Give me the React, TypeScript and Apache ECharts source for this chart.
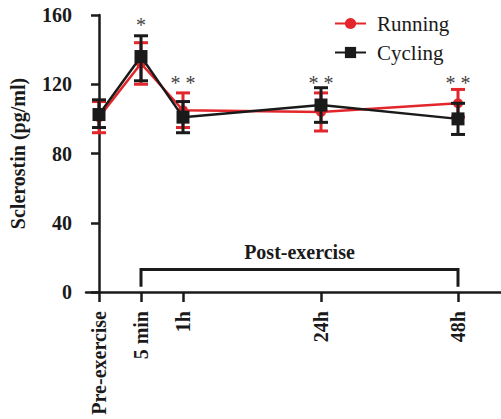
import React, { useEffect, useRef } from "react";
import * as echarts from "echarts";

const categories = ["Pre-exercise", "5 min", "1h", "24h", "48h"];
const xPositions = [0, 42, 84, 222, 359];
const runningMean = [101, 132, 105, 104, 109];
const runningLow = [92, 120, 95, 93, 101];
const runningHigh = [110, 144, 115, 115, 117];
const cyclingMean = [102.5, 136, 101, 108, 100];
const cyclingLow = [95, 122, 92, 98, 91];
const cyclingHigh = [111, 148, 110, 118, 109];
const significance = ["", "*", "* *", "* *", "* *"];
const sigLevel = [0, 154, 121, 121, 121];
const yTicks = { min: 0, max: 160, interval: 40 };
const bracket = { from: 42, to: 359, level: 13, foot: 3, label: "Post-exercise" };

const RED = "#e3262b";
const BLACK = "#1a1a1a";
const FONT = "'Liberation Serif', 'Times New Roman', serif";

function errorBarSeries(name: string, low: number[], high: number[], color: string, z: number) {
  return {
    type: "custom",
    name: name + "-err",
    z,
    silent: true,
    data: xPositions.map((x, i) => [x, low[i], high[i]]),
    encode: { x: 0, y: [1, 2] },
    renderItem: (params: any, api: any) => {
      const x = api.value(0);
      const lo = api.coord([x, api.value(1)]);
      const hi = api.coord([x, api.value(2)]);
      const hw = 7;
      const style = { stroke: color, lineWidth: 3 };
      return {
        type: "group",
        children: [
          { type: "line", shape: { x1: lo[0], y1: lo[1], x2: hi[0], y2: hi[1] }, style },
          { type: "line", shape: { x1: lo[0] - hw, y1: lo[1], x2: lo[0] + hw, y2: lo[1] }, style },
          { type: "line", shape: { x1: hi[0] - hw, y1: hi[1], x2: hi[0] + hw, y2: hi[1] }, style },
        ],
      };
    },
  };
}

export default function App() {
  const ref = useRef<HTMLDivElement>(null);
  useEffect(() => {
    if (!ref.current) return;
    const chart = echarts.init(ref.current, undefined, { renderer: "svg" });
    const option: any = {
      animation: false,
      backgroundColor: "#ffffff",
      grid: { left: 86, right: 0, top: 15, bottom: 127, containLabel: false },
      legend: {
        orient: "vertical",
        left: 329,
        top: 8,
        itemWidth: 31,
        itemHeight: 14,
        itemGap: 8,
        data: ["Running", "Cycling"],
        textStyle: { fontFamily: FONT, fontSize: 21, color: BLACK, padding: [0, 0, 0, 6] },
      },
      xAxis: {
        type: "value",
        min: -13,
        max: 402,
        splitLine: { show: false },
        axisLine: { show: true, lineStyle: { color: BLACK, width: 2.5 } },
        axisTick: {
          show: true,
          customValues: xPositions,
          length: 10,
          lineStyle: { color: BLACK, width: 2.5 },
        },
        axisLabel: {
          customValues: xPositions,
          rotate: 90,
          margin: 19,
          fontFamily: FONT,
          fontWeight: "bold",
          fontSize: 20,
          color: BLACK,
          formatter: (v: number) => {
            const i = xPositions.indexOf(v);
            return i >= 0 ? categories[i] : "";
          },
        },
      },
      yAxis: {
        type: "value",
        min: yTicks.min,
        max: yTicks.max,
        interval: yTicks.interval,
        splitLine: { show: false },
        axisLine: { show: true, lineStyle: { color: BLACK, width: 2.5 } },
        axisTick: { show: true, length: 8, lineStyle: { color: BLACK, width: 2.5 } },
        axisLabel: {
          margin: 14,
          fontFamily: FONT,
          fontWeight: "bold",
          fontSize: 20,
          color: BLACK,
        },
        name: "Sclerostin (pg/ml)",
        nameLocation: "middle",
        nameRotate: 90,
        nameGap: 58,
        nameTextStyle: { fontFamily: FONT, fontWeight: "bold", fontSize: 20, color: BLACK },
      },
      series: [
        errorBarSeries("Running", runningLow, runningHigh, RED, 2),
        {
          type: "line",
          name: "Running",
          z: 3,
          data: xPositions.map((x, i) => [x, runningMean[i]]),
          symbol: "circle",
          symbolSize: 10,
          itemStyle: { color: RED },
          lineStyle: { color: RED, width: 2.5 },
        },
        errorBarSeries("Cycling", cyclingLow, cyclingHigh, BLACK, 4),
        {
          type: "line",
          name: "Cycling",
          z: 5,
          data: xPositions.map((x, i) => [x, cyclingMean[i]]),
          symbol: "rect",
          symbolSize: 13,
          itemStyle: { color: BLACK },
          lineStyle: { color: BLACK, width: 2.5 },
        },
        {
          type: "custom",
          name: "sig",
          z: 6,
          silent: true,
          data: xPositions.map((x, i) => [x, sigLevel[i], significance[i]]),
          renderItem: (params: any, api: any) => {
            const i = params.dataIndex;
            const p = api.coord([api.value(0), api.value(1)]);
            return {
              type: "text",
              x: p[0],
              y: p[1],
              style: {
                text: significance[i],
                fontFamily: FONT,
                fontSize: 20,
                fill: "#444444",
                align: "center",
                verticalAlign: "middle",
              },
            };
          },
        },
        {
          type: "custom",
          name: "bracket",
          z: 6,
          silent: true,
          data: [[bracket.from, bracket.to, bracket.level, bracket.foot]],
          renderItem: (params: any, api: any) => {
            const a = api.coord([api.value(0), api.value(2)]);
            const b = api.coord([api.value(1), api.value(2)]);
            const af = api.coord([api.value(0), api.value(3)]);
            const bf = api.coord([api.value(1), api.value(3)]);
            return {
              type: "group",
              children: [
                {
                  type: "polyline",
                  shape: { points: [af, a, b, bf] },
                  style: { stroke: BLACK, lineWidth: 3, fill: "none" },
                },
                {
                  type: "text",
                  x: (a[0] + b[0]) / 2,
                  y: a[1] - 17,
                  style: {
                    text: bracket.label,
                    fontFamily: FONT,
                    fontWeight: "bold",
                    fontSize: 20,
                    fill: BLACK,
                    align: "center",
                    verticalAlign: "middle",
                  },
                },
              ],
            };
          },
        },
      ],
    };
    chart.setOption(option);
    return () => chart.dispose();
  }, []);
  return (
    <div
      ref={ref}
      style={{ position: "absolute", left: 0, top: 0, width: 501, height: 419 }}
    />
  );
}
